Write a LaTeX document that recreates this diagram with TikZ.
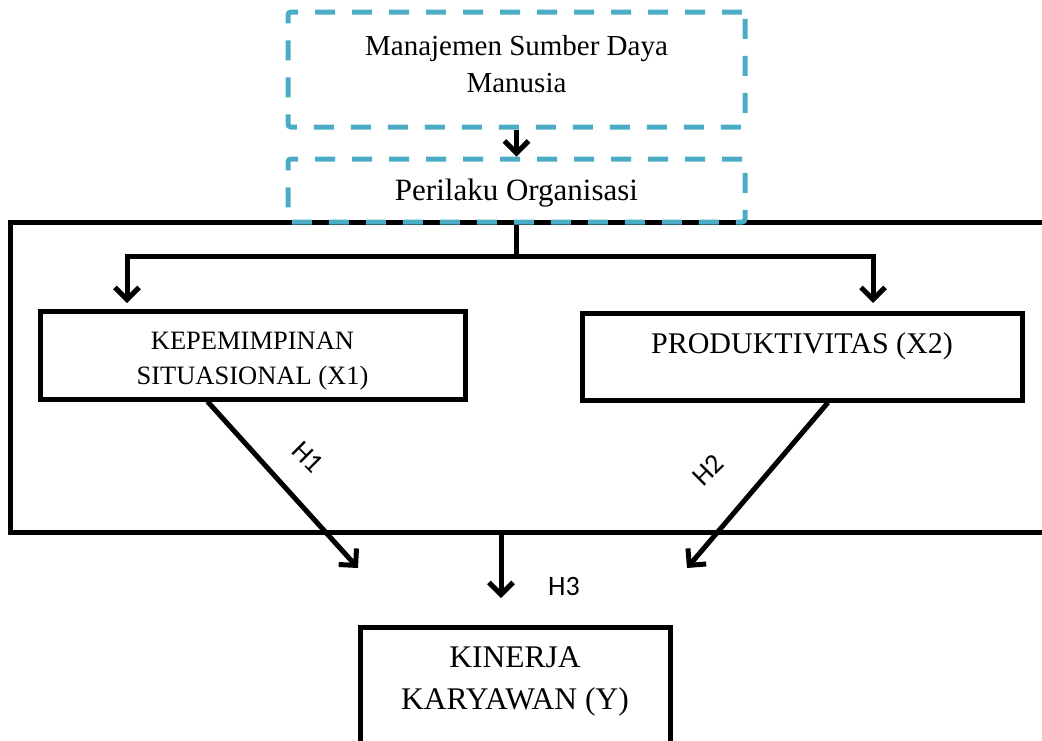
\documentclass[tikz,border=0pt]{standalone}
\usepackage{fontspec}
\setmainfont{Liberation Serif}
\newfontfamily\calfont{Carlito}
\usetikzlibrary{arrows.meta}
\definecolor{tealbox}{HTML}{4BACC6}
\begin{document}
\begin{tikzpicture}[x=1pt,y=-1pt,
  dbox/.style={draw=tealbox, line width=5pt, dash pattern=on 20pt off 17pt, rounded corners=3pt, minimum width=457pt, align=center, inner sep=0pt},
  sbox/.style={draw=black, line width=5pt, align=center, inner sep=0pt},
  conn/.style={line width=5pt, black},
  arr/.style={conn, -{Straight Barb[length=12pt,width=24pt]}},
  hlab/.style={font=\calfont\fontsize{28}{32}\selectfont, inner sep=0pt}]
\useasboundingbox (0,0) rectangle (1042,740);
\clip (0,0) rectangle (1042,740);
% outer frame
\node[draw=black, line width=5pt, minimum width=1040pt, minimum height=310pt, inner sep=0pt] (frame) at (530,377) {};
% dashed boxes
\node[dbox, minimum height=115pt, font=\fontsize{29}{37}\selectfont] (msdm) at (516.5,69.5) {Manajemen Sumber Daya\\Manusia\rule[-12pt]{0pt}{12pt}};
\node[dbox, minimum height=63pt, font=\fontsize{31}{37}\selectfont] (peri) at (516.5,190.5) {\rule{0pt}{27pt}Perilaku Organisasi};
\draw[arr] (msdm.south) -- (peri.north);
% variable boxes
\node[sbox, minimum width=425pt, minimum height=88pt, font=\fontsize{26.5}{35}\selectfont] (kep) at (252.5,355) {\rule{0pt}{30pt}KEPEMIMPINAN\\SITUASIONAL (X1)};
\node[sbox, minimum width=440pt, minimum height=87pt, font=\fontsize{30}{36}\selectfont, text depth=27pt] (prod) at (802,356.5) {PRODUKTIVITAS (X2)};
\node[sbox, minimum width=310pt, minimum height=150pt, anchor=north] (kin) at (515,625) {};
\node[align=center, inner sep=0pt, font=\fontsize{31.5}{42}\selectfont] (kint) at (515,681) {KINERJA\\KARYAWAN (Y)};
% fork
\coordinate (fork) at (516.5,256);
\coordinate (kepin) at (127,303);
\coordinate (prodin) at (873,303);
\draw[conn] (peri.south) -- (fork);
\draw[arr] (fork) -| (kepin);
\draw[arr] (fork) -| (prodin);
% hypotheses
\coordinate (h1end) at (358,568);
\coordinate (h2end) at (687,568);
\coordinate (h3end) at (501,598);
\draw[arr] ([xshift=-45pt]kep.south) -- (h1end);
\draw[arr] ([xshift=26pt]prod.south) -- (h2end);
\draw[arr] ([xshift=-29pt]frame.south) -- (h3end);
\node[hlab, rotate=-45] (h1) at (308,457) {H1};
\node[hlab, rotate=45] (h2) at (708,470) {H2};
\node[hlab] (h3) at (564,587) {H3};
\end{tikzpicture}
\end{document}
